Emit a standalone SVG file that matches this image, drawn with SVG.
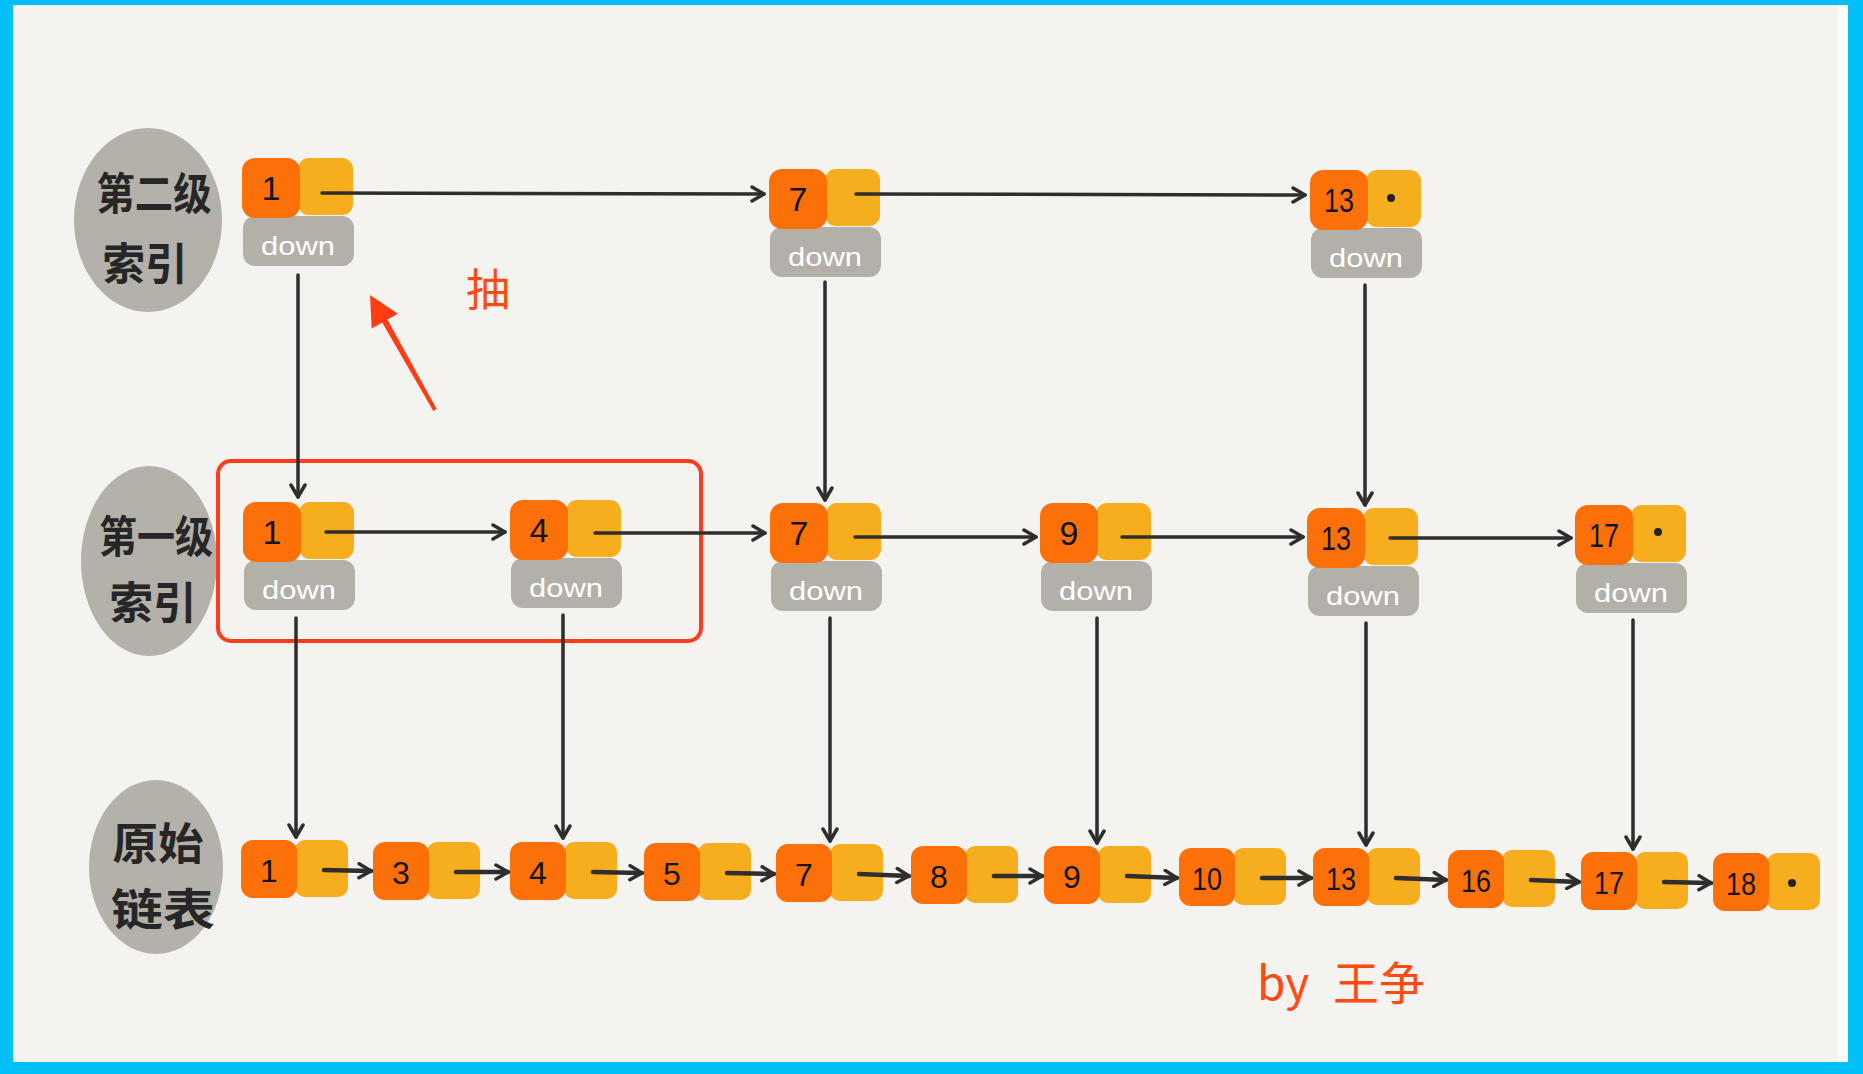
<svg xmlns="http://www.w3.org/2000/svg" width="1863" height="1074" viewBox="0 0 1863 1074">
<style>
.o{fill:#fb7008}
.y{fill:#f6ae1f}
.d{fill:#b3b0a9}
.blob{fill:#b4b1aa}
.num{font-family:"Liberation Sans","DejaVu Sans",sans-serif;font-size:34px;fill:#141414;text-anchor:middle}
.bn{font-size:32px}
.dn{font-family:"Liberation Sans","DejaVu Sans",sans-serif;font-size:26px;fill:#ffffff;text-anchor:middle}
.lab{font-family:"Noto Sans CJK SC","Noto Sans CJK JP",sans-serif;font-weight:700;font-size:44px;fill:#262626;text-anchor:middle}
.ln{fill:none;stroke:#2e2e2e;stroke-width:3.5;stroke-linecap:round}
.lb{fill:none;stroke:#2e2e2e;stroke-width:4.5;stroke-linecap:round}
.red{font-family:"Noto Sans CJK SC","Liberation Sans",sans-serif;fill:#ff4a14}
</style>
<defs>
<marker id="ah" viewBox="0 0 16 18" refX="14" refY="9" markerWidth="16" markerHeight="18" markerUnits="userSpaceOnUse" orient="auto">
<path d="M2,2 L14,9 L2,16" fill="none" stroke="#2e2e2e" stroke-width="3.5" stroke-linecap="round" stroke-linejoin="round"/>
</marker>
</defs>
<rect x="0" y="0" width="1863" height="1074" fill="#00bff7"/>
<rect x="13" y="5" width="1835" height="1057" fill="#ffffff"/>
<rect x="13" y="5" width="1825" height="1057" fill="#f5f3ef"/>

<g id="label-level2">
<ellipse class="blob" cx="148" cy="220" rx="74" ry="92"/>
<text class="lab" x="154" y="210" textLength="115" lengthAdjust="spacingAndGlyphs">第二级</text>
<text class="lab" x="145" y="280" textLength="85" lengthAdjust="spacingAndGlyphs">索引</text>
</g>
<g id="label-level1">
<ellipse class="blob" cx="149" cy="561" rx="68" ry="95"/>
<text class="lab" x="156" y="553" textLength="114" lengthAdjust="spacingAndGlyphs">第一级</text>
<text class="lab" x="153" y="619" textLength="87" lengthAdjust="spacingAndGlyphs">索引</text>
</g>
<g id="label-raw">
<ellipse class="blob" cx="156" cy="867" rx="67" ry="87"/>
<text class="lab" x="158" y="860" textLength="91" lengthAdjust="spacingAndGlyphs">原始</text>
<text class="lab" x="163" y="926" textLength="104" lengthAdjust="spacingAndGlyphs">链表</text>
</g>

<g id="highlight-box">
<rect x="218" y="461" width="483" height="180" rx="13" fill="none" stroke="#ff3d1c" stroke-width="4"/>
</g>

<g id="t1">
<rect class="d" x="243" y="216" width="111" height="50" rx="12"/>
<rect class="y" x="298" y="158" width="55" height="57" rx="11"/>
<rect class="o" x="242" y="158" width="58" height="60" rx="13"/>
<text class="num" x="271" y="200">1</text>
<text class="dn" x="298" y="255" textLength="74" lengthAdjust="spacingAndGlyphs">down</text>
</g>
<g id="t7">
<rect class="d" x="770" y="227" width="111" height="50" rx="12"/>
<rect class="y" x="825" y="169" width="55" height="57" rx="11"/>
<rect class="o" x="769" y="169" width="58" height="60" rx="13"/>
<text class="num" x="798" y="211">7</text>
<text class="dn" x="825" y="266" textLength="74" lengthAdjust="spacingAndGlyphs">down</text>
</g>
<g id="t13">
<rect class="d" x="1311" y="228" width="111" height="50" rx="12"/>
<rect class="y" x="1366" y="170" width="55" height="57" rx="11"/>
<rect class="o" x="1310" y="170" width="58" height="60" rx="13"/>
<text class="num" x="1339" y="212" textLength="30" lengthAdjust="spacingAndGlyphs">13</text>
<circle cx="1391" cy="198" r="4" fill="#222"/>
<text class="dn" x="1366" y="267" textLength="74" lengthAdjust="spacingAndGlyphs">down</text>
</g>

<g id="m1">
<rect class="d" x="244" y="560" width="111" height="50" rx="12"/>
<rect class="y" x="299" y="502" width="55" height="57" rx="11"/>
<rect class="o" x="243" y="502" width="58" height="60" rx="13"/>
<text class="num" x="272" y="544">1</text>
<text class="dn" x="299" y="599" textLength="74" lengthAdjust="spacingAndGlyphs">down</text>
</g>
<g id="m4">
<rect class="d" x="511" y="558" width="111" height="50" rx="12"/>
<rect class="y" x="566" y="500" width="55" height="57" rx="11"/>
<rect class="o" x="510" y="500" width="58" height="60" rx="13"/>
<text class="num" x="539" y="542">4</text>
<text class="dn" x="566" y="597" textLength="74" lengthAdjust="spacingAndGlyphs">down</text>
</g>
<g id="m7">
<rect class="d" x="771" y="561" width="111" height="50" rx="12"/>
<rect class="y" x="826" y="503" width="55" height="57" rx="11"/>
<rect class="o" x="770" y="503" width="58" height="60" rx="13"/>
<text class="num" x="799" y="545">7</text>
<text class="dn" x="826" y="600" textLength="74" lengthAdjust="spacingAndGlyphs">down</text>
</g>
<g id="m9">
<rect class="d" x="1041" y="561" width="111" height="50" rx="12"/>
<rect class="y" x="1096" y="503" width="55" height="57" rx="11"/>
<rect class="o" x="1040" y="503" width="58" height="60" rx="13"/>
<text class="num" x="1069" y="545">9</text>
<text class="dn" x="1096" y="600" textLength="74" lengthAdjust="spacingAndGlyphs">down</text>
</g>
<g id="m13">
<rect class="d" x="1308" y="566" width="111" height="50" rx="12"/>
<rect class="y" x="1363" y="508" width="55" height="57" rx="11"/>
<rect class="o" x="1307" y="508" width="58" height="60" rx="13"/>
<text class="num" x="1336" y="550" textLength="30" lengthAdjust="spacingAndGlyphs">13</text>
<text class="dn" x="1363" y="605" textLength="74" lengthAdjust="spacingAndGlyphs">down</text>
</g>
<g id="m17">
<rect class="d" x="1576" y="563" width="111" height="50" rx="12"/>
<rect class="y" x="1631" y="505" width="55" height="57" rx="11"/>
<rect class="o" x="1575" y="505" width="58" height="60" rx="13"/>
<text class="num" x="1604" y="547" textLength="30" lengthAdjust="spacingAndGlyphs">17</text>
<circle cx="1658" cy="532" r="4" fill="#222"/>
<text class="dn" x="1631" y="602" textLength="74" lengthAdjust="spacingAndGlyphs">down</text>
</g>

<g id="b1"><rect class="y" x="295" y="840" width="53" height="57" rx="10"/><rect class="o" x="241" y="840" width="56" height="58" rx="12"/><text class="num bn" x="269" y="882">1</text></g>
<g id="b3"><rect class="y" x="427" y="842" width="53" height="57" rx="10"/><rect class="o" x="373" y="842" width="56" height="58" rx="12"/><text class="num bn" x="401" y="884">3</text></g>
<g id="b4"><rect class="y" x="564" y="842" width="53" height="57" rx="10"/><rect class="o" x="510" y="842" width="56" height="58" rx="12"/><text class="num bn" x="538" y="884">4</text></g>
<g id="b5"><rect class="y" x="698" y="843" width="53" height="57" rx="10"/><rect class="o" x="644" y="843" width="56" height="58" rx="12"/><text class="num bn" x="672" y="885">5</text></g>
<g id="b7"><rect class="y" x="830" y="844" width="53" height="57" rx="10"/><rect class="o" x="776" y="844" width="56" height="58" rx="12"/><text class="num bn" x="804" y="886">7</text></g>
<g id="b8"><rect class="y" x="965" y="846" width="53" height="57" rx="10"/><rect class="o" x="911" y="846" width="56" height="58" rx="12"/><text class="num bn" x="939" y="888">8</text></g>
<g id="b9"><rect class="y" x="1098" y="846" width="53" height="57" rx="10"/><rect class="o" x="1044" y="846" width="56" height="58" rx="12"/><text class="num bn" x="1072" y="888">9</text></g>
<g id="b10"><rect class="y" x="1233" y="848" width="53" height="57" rx="10"/><rect class="o" x="1179" y="848" width="56" height="58" rx="12"/><text class="num bn" x="1207" y="890" textLength="30" lengthAdjust="spacingAndGlyphs">10</text></g>
<g id="b13"><rect class="y" x="1367" y="848" width="53" height="57" rx="10"/><rect class="o" x="1313" y="848" width="56" height="58" rx="12"/><text class="num bn" x="1341" y="890" textLength="30" lengthAdjust="spacingAndGlyphs">13</text></g>
<g id="b16"><rect class="y" x="1502" y="850" width="53" height="57" rx="10"/><rect class="o" x="1448" y="850" width="56" height="58" rx="12"/><text class="num bn" x="1476" y="892" textLength="30" lengthAdjust="spacingAndGlyphs">16</text></g>
<g id="b17"><rect class="y" x="1635" y="852" width="53" height="57" rx="10"/><rect class="o" x="1581" y="852" width="56" height="58" rx="12"/><text class="num bn" x="1609" y="894" textLength="30" lengthAdjust="spacingAndGlyphs">17</text></g>
<g id="b18"><rect class="y" x="1767" y="853" width="53" height="57" rx="10"/><rect class="o" x="1713" y="853" width="56" height="58" rx="12"/><text class="num bn" x="1741" y="895" textLength="30" lengthAdjust="spacingAndGlyphs">18</text><circle cx="1792" cy="883" r="4" fill="#222"/></g>

<g id="connectors">
<line class="ln" x1="322" y1="193" x2="764" y2="194" marker-end="url(#ah)"/>
<line class="ln" x1="856" y1="194" x2="1305" y2="195" marker-end="url(#ah)"/>
<line class="ln" x1="326" y1="532" x2="505" y2="532" marker-end="url(#ah)"/>
<line class="ln" x1="595" y1="533" x2="765" y2="533" marker-end="url(#ah)"/>
<line class="ln" x1="855" y1="537" x2="1036" y2="537" marker-end="url(#ah)"/>
<line class="ln" x1="1122" y1="537" x2="1303" y2="537" marker-end="url(#ah)"/>
<line class="ln" x1="1390" y1="538" x2="1571" y2="538" marker-end="url(#ah)"/>
<line class="ln" x1="298" y1="275" x2="298" y2="497" marker-end="url(#ah)"/>
<line class="ln" x1="825" y1="282" x2="825" y2="500" marker-end="url(#ah)"/>
<line class="ln" x1="1365" y1="285" x2="1365" y2="505" marker-end="url(#ah)"/>
<line class="ln" x1="296" y1="618" x2="296" y2="837" marker-end="url(#ah)"/>
<line class="ln" x1="563" y1="615" x2="563" y2="838" marker-end="url(#ah)"/>
<line class="ln" x1="830" y1="618" x2="830" y2="841" marker-end="url(#ah)"/>
<line class="ln" x1="1097" y1="618" x2="1097" y2="843" marker-end="url(#ah)"/>
<line class="ln" x1="1366" y1="623" x2="1366" y2="845" marker-end="url(#ah)"/>
<line class="ln" x1="1633" y1="620" x2="1633" y2="849" marker-end="url(#ah)"/>
<line class="lb" x1="324" y1="870" x2="371" y2="871" marker-end="url(#ah)"/>
<line class="lb" x1="456" y1="872" x2="508" y2="872" marker-end="url(#ah)"/>
<line class="lb" x1="593" y1="872" x2="642" y2="873" marker-end="url(#ah)"/>
<line class="lb" x1="727" y1="873" x2="774" y2="874" marker-end="url(#ah)"/>
<line class="lb" x1="859" y1="874" x2="909" y2="876" marker-end="url(#ah)"/>
<line class="lb" x1="994" y1="876" x2="1042" y2="876" marker-end="url(#ah)"/>
<line class="lb" x1="1127" y1="876" x2="1177" y2="878" marker-end="url(#ah)"/>
<line class="lb" x1="1262" y1="878" x2="1311" y2="878" marker-end="url(#ah)"/>
<line class="lb" x1="1396" y1="878" x2="1446" y2="880" marker-end="url(#ah)"/>
<line class="lb" x1="1531" y1="880" x2="1579" y2="882" marker-end="url(#ah)"/>
<line class="lb" x1="1664" y1="882" x2="1711" y2="883" marker-end="url(#ah)"/>
</g>

<g id="extract-arrow">
<polygon points="370,295 397.9,313.7 387.4,319.6 436.7,409 433.3,411 382.2,322.6 371.7,328.5" fill="#ff3d14"/>
<text class="red" x="488" y="306" font-size="44" text-anchor="middle">抽</text>
</g>

<g id="credit">
<text class="red" x="1257" y="1000" font-size="46">by<tspan x="1333">王争</tspan></text>
</g>
</svg>
